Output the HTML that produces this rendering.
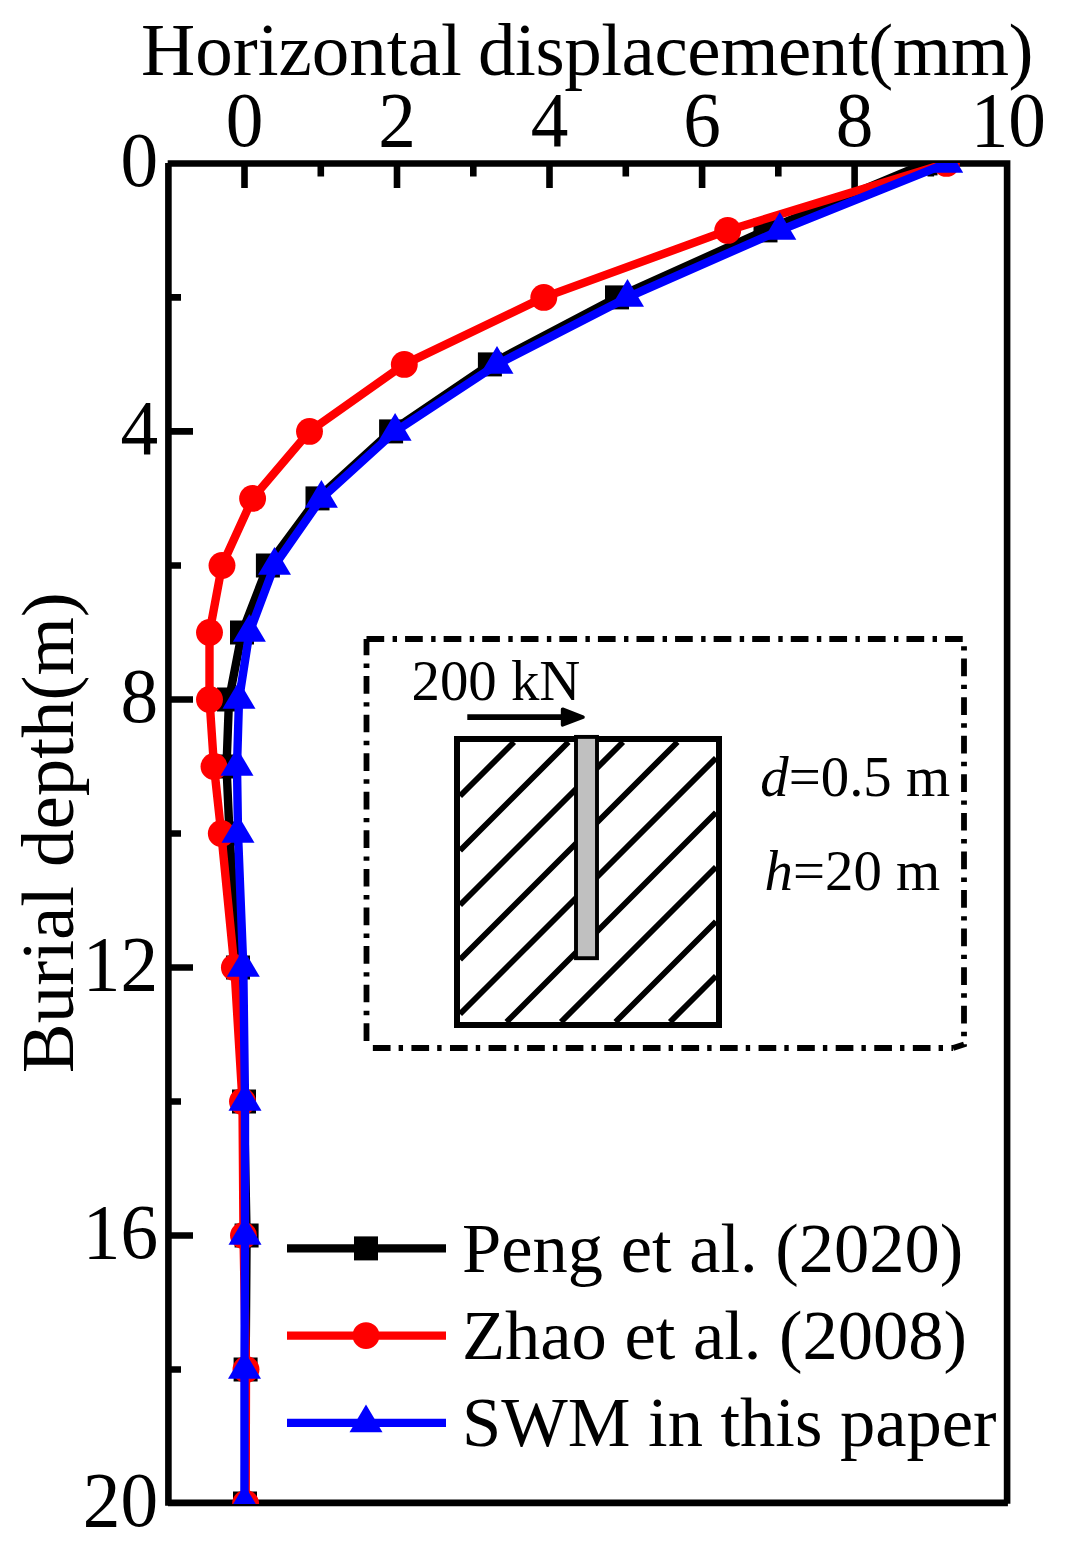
<!DOCTYPE html>
<html><head><meta charset="utf-8"><title>Horizontal displacement vs burial depth</title>
<style>
html,body{margin:0;padding:0;background:#fff;}
body{width:1069px;height:1546px;overflow:hidden;}
svg{display:block;}
.t{font-family:"Liberation Serif","Times New Roman",serif;fill:#000;}
</style></head>
<body>
<svg width="1069" height="1546" viewBox="0 0 1069 1546">
<rect width="1069" height="1546" fill="#fff"/>
<defs><clipPath id="pc"><rect x="168.4" y="163" width="838.3000000000001" height="1341"/></clipPath></defs>
<path d="M167.7,163.45H1010M1007.1,160.2V1503.8M168,1502.9H1007.9M168.4,163V1505.7" fill="none" stroke="#000" stroke-width="6.6"/>
<path d="M244.5,163.5V188M320.8,163.5V176.5M397.0,163.5V188M473.3,163.5V176.5M549.5,163.5V188M625.8,163.5V176.5M702.1,163.5V188M778.3,163.5V176.5M854.6,163.5V188M930.8,163.5V176.5M168.4,297.4H181M168.4,431.4H193M168.4,565.5H181M168.4,699.5H193M168.4,833.5H181M168.4,967.5H193M168.4,1101.5H181M168.4,1235.5H193M168.4,1369.5H181" stroke="#000" stroke-width="6.6" fill="none"/>
<g clip-path="url(#pc)">
<polyline points="925.5,163.4 765.5,230.4 617.0,297.4 489.9,364.4 391.1,431.4 317.5,498.4 267.9,565.5 242.0,632.5 229.0,699.5 226.5,766.5 229.5,833.5 238.0,967.5 244.0,1101.5 246.6,1235.5 245.6,1369.5 245.0,1503.5" fill="none" stroke="#000" stroke-width="8.4" stroke-linejoin="round"/>
<rect x="913.5" y="151.4" width="24" height="24" fill="#000"/>
<rect x="753.5" y="218.4" width="24" height="24" fill="#000"/>
<rect x="605.0" y="285.4" width="24" height="24" fill="#000"/>
<rect x="477.9" y="352.4" width="24" height="24" fill="#000"/>
<rect x="379.1" y="419.4" width="24" height="24" fill="#000"/>
<rect x="305.5" y="486.4" width="24" height="24" fill="#000"/>
<rect x="255.9" y="553.5" width="24" height="24" fill="#000"/>
<rect x="230.0" y="620.5" width="24" height="24" fill="#000"/>
<rect x="217.0" y="687.5" width="24" height="24" fill="#000"/>
<rect x="214.5" y="754.5" width="24" height="24" fill="#000"/>
<rect x="217.5" y="821.5" width="24" height="24" fill="#000"/>
<rect x="226.0" y="955.5" width="24" height="24" fill="#000"/>
<rect x="232.0" y="1089.5" width="24" height="24" fill="#000"/>
<rect x="234.6" y="1223.5" width="24" height="24" fill="#000"/>
<rect x="233.6" y="1357.5" width="24" height="24" fill="#000"/>
<rect x="233.0" y="1491.5" width="24" height="24" fill="#000"/>
<polyline points="946.4,163.4 727.7,230.4 543.8,297.4 404.3,364.4 309.5,431.4 252.6,498.4 222.0,565.5 209.5,632.5 209.5,699.5 214.0,766.5 221.3,833.5 234.4,967.5 242.5,1101.5 243.5,1235.5 246.0,1369.5 245.6,1503.5" fill="none" stroke="#f00" stroke-width="8.4" stroke-linejoin="round"/>
<circle cx="946.4" cy="163.4" r="13.45" fill="#f00"/>
<circle cx="727.7" cy="230.4" r="13.45" fill="#f00"/>
<circle cx="543.8" cy="297.4" r="13.45" fill="#f00"/>
<circle cx="404.3" cy="364.4" r="13.45" fill="#f00"/>
<circle cx="309.5" cy="431.4" r="13.45" fill="#f00"/>
<circle cx="252.6" cy="498.4" r="13.45" fill="#f00"/>
<circle cx="222.0" cy="565.5" r="13.45" fill="#f00"/>
<circle cx="209.5" cy="632.5" r="13.45" fill="#f00"/>
<circle cx="209.5" cy="699.5" r="13.45" fill="#f00"/>
<circle cx="214.0" cy="766.5" r="13.45" fill="#f00"/>
<circle cx="221.3" cy="833.5" r="13.45" fill="#f00"/>
<circle cx="234.4" cy="967.5" r="13.45" fill="#f00"/>
<circle cx="242.5" cy="1101.5" r="13.45" fill="#f00"/>
<circle cx="243.5" cy="1235.5" r="13.45" fill="#f00"/>
<circle cx="246.0" cy="1369.5" r="13.45" fill="#f00"/>
<circle cx="245.6" cy="1503.5" r="13.45" fill="#f00"/>
<polyline points="946.7,163.4 779.8,230.4 627.5,297.4 497.0,364.4 395.1,431.4 321.4,498.4 274.5,565.5 249.4,632.5 239.0,699.5 237.0,766.5 238.0,833.5 243.3,967.5 245.0,1101.5 245.0,1235.5 244.5,1369.5 244.5,1503.5" fill="none" stroke="#00f" stroke-width="8.4" stroke-linejoin="round"/>
<polygon points="946.7,144.9 963.2,172.7 930.2,172.7" fill="#00f"/>
<polygon points="779.8,211.9 796.3,239.7 763.3,239.7" fill="#00f"/>
<polygon points="627.5,278.9 644.0,306.7 611.0,306.7" fill="#00f"/>
<polygon points="497.0,345.9 513.5,373.7 480.5,373.7" fill="#00f"/>
<polygon points="395.1,412.9 411.6,440.7 378.6,440.7" fill="#00f"/>
<polygon points="321.4,479.9 337.9,507.7 304.9,507.7" fill="#00f"/>
<polygon points="274.5,546.9 291.0,574.7 258.0,574.7" fill="#00f"/>
<polygon points="249.4,613.9 265.9,641.7 232.9,641.7" fill="#00f"/>
<polygon points="239.0,680.9 255.5,708.7 222.5,708.7" fill="#00f"/>
<polygon points="237.0,747.9 253.5,775.7 220.5,775.7" fill="#00f"/>
<polygon points="238.0,814.9 254.5,842.7 221.5,842.7" fill="#00f"/>
<polygon points="243.3,948.9 259.8,976.7 226.8,976.7" fill="#00f"/>
<polygon points="245.0,1082.9 261.5,1110.7 228.5,1110.7" fill="#00f"/>
<polygon points="245.0,1216.9 261.5,1244.7 228.5,1244.7" fill="#00f"/>
<polygon points="244.5,1350.9 261.0,1378.7 228.0,1378.7" fill="#00f"/>
<polygon points="244.5,1484.9 261.0,1512.7 228.0,1512.7" fill="#00f"/>
</g>
<text transform="translate(244.5,145.6) scale(0.965,1)" text-anchor="middle" class="t" font-size="78">0</text>
<text transform="translate(397.0,145.6) scale(0.965,1)" text-anchor="middle" class="t" font-size="78">2</text>
<text transform="translate(549.5,145.6) scale(0.965,1)" text-anchor="middle" class="t" font-size="78">4</text>
<text transform="translate(702.1,145.6) scale(0.965,1)" text-anchor="middle" class="t" font-size="78">6</text>
<text transform="translate(854.6,145.6) scale(0.965,1)" text-anchor="middle" class="t" font-size="78">8</text>
<text transform="translate(1008.3,145.6) scale(0.965,1)" text-anchor="middle" class="t" font-size="78">10</text>
<text transform="translate(158,185.8) scale(0.965,1)" text-anchor="end" class="t" font-size="78">0</text>
<text transform="translate(158,453.8) scale(0.965,1)" text-anchor="end" class="t" font-size="78">4</text>
<text transform="translate(158,721.9) scale(0.965,1)" text-anchor="end" class="t" font-size="78">8</text>
<text transform="translate(158,989.9) scale(0.965,1)" text-anchor="end" class="t" font-size="78">12</text>
<text transform="translate(158,1257.9) scale(0.965,1)" text-anchor="end" class="t" font-size="78">16</text>
<text transform="translate(158,1525.9) scale(0.965,1)" text-anchor="end" class="t" font-size="78">20</text>
<text x="141.1" y="75" class="t" font-size="75">Horizontal <tspan x="478" textLength="555.6" lengthAdjust="spacing">displacement(mm)</tspan></text>
<text transform="translate(72.8,1073.3) rotate(-90)" class="t" font-size="75">Burial depth(m)</text>
<line x1="287" y1="1248.4" x2="446" y2="1248.4" stroke="#000" stroke-width="8.4"/>
<rect x="354.0" y="1236.4" width="24" height="24" fill="#000"/>
<text x="462" y="1271.8" class="t" font-size="70.5">Peng et al. (2020)</text>
<line x1="287" y1="1335.6" x2="446" y2="1335.6" stroke="#f00" stroke-width="8.4"/>
<circle cx="366.0" cy="1335.6" r="13.45" fill="#f00"/>
<text x="462" y="1359.0" class="t" font-size="70.5">Zhao et al. (2008)</text>
<line x1="287" y1="1422.9" x2="446" y2="1422.9" stroke="#00f" stroke-width="8.4"/>
<polygon points="366.0,1404.4 382.5,1432.2 349.5,1432.2" fill="#00f"/>
<text x="462" y="1446.3" class="t" font-size="70.5">SWM in this paper</text>
<path d="M366.5,639H964V1044.5L953,1048" fill="none" stroke="#000" stroke-width="5.8" stroke-dasharray="17.7 8.4 4.4 8.07"/>
<path d="M953,1048H372" fill="none" stroke="#000" stroke-width="5.8" stroke-dasharray="17.7 8.4 4.4 8.07" stroke-dashoffset="16.1"/>
<path d="M366.5,639V1041" fill="none" stroke="#000" stroke-width="5.8" stroke-dasharray="17.7 8.4 4.4 8.07" stroke-dashoffset="1.5"/>
<path d="M460.0,796.0L514.0,742.0M460.0,850.5L568.5,742.0M460.0,905.0L623.0,742.0M460.0,959.5L677.5,742.0M460.0,1014.0L716.0,758.0M716.0,812.5L506.5,1022.0M716.0,867.0L561.0,1022.0M716.0,921.5L615.5,1022.0M716.0,976.0L670.0,1022.0" stroke="#000" stroke-width="5.8" fill="none"/>
<rect x="457" y="739" width="262" height="286" fill="none" stroke="#000" stroke-width="6"/>
<rect x="576" y="736.9" width="21" height="221.3" fill="#c0c0c0" stroke="#000" stroke-width="3.9"/>
<line x1="467.3" y1="717.1" x2="565" y2="717.1" stroke="#000" stroke-width="5.9"/>
<polygon points="562.6,709.2 583,717.1 562.6,724.8" fill="#000" stroke="#000" stroke-width="3.6" stroke-linejoin="round"/>
<text x="411.5" y="700" class="t" font-size="56.8">200 kN</text>
<text x="760.3" y="796.3" class="t" font-size="56.8"><tspan font-style="italic">d</tspan>=0.5 m</text>
<text x="764.6" y="889.5" class="t" font-size="56.8"><tspan font-style="italic">h</tspan>=20 m</text>
</svg>
</body></html>
